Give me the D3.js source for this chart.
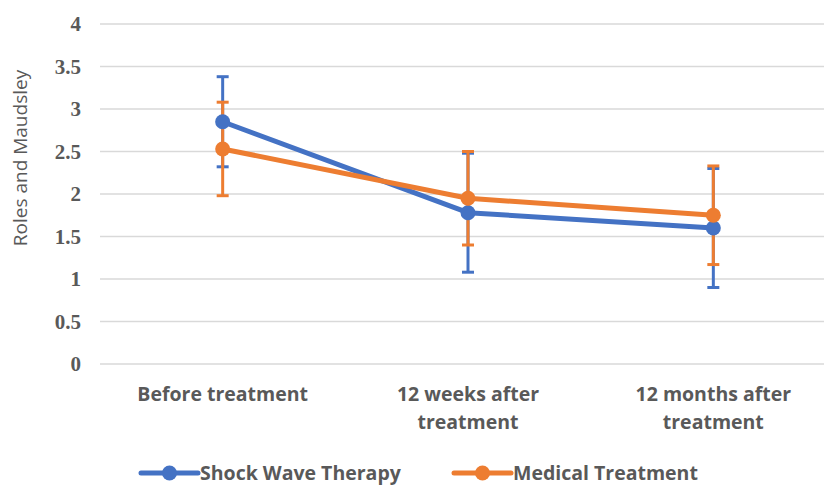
<!DOCTYPE html>
<html>
<head>
<meta charset="utf-8">
<script src="https://cdn.jsdelivr.net/npm/d3@7"></script>
<style>
  body { margin: 0; background: #fff; }
  svg { display: block; }
</style>
</head>
<body>
<div id="chart"></div>
<script>
// data
const categories = [["Before treatment"], ["12 weeks after", "treatment"], ["12 months after", "treatment"]];
const seriesNames = ["Shock Wave Therapy", "Medical Treatment"];
const seriesColors = ["#4472C4", "#ED7D31"];
const shockValues = [2.85, 1.78, 1.60];
const shockErr = [0.53, 0.70, 0.70];
const medicalValues = [2.53, 1.95, 1.75];
const medicalErr = [0.55, 0.55, 0.58];
const yTicks = [0, 0.5, 1, 1.5, 2, 2.5, 3, 3.5, 4];

const W = 824, H = 486;
const margin = {top: 24, left: 100, bottom: 122};

const svg = d3.select("#chart").append("svg")
    .attr("width", W)
    .attr("height", H);

const catKeys = categories.map(c => c.join(" "));

const x = d3.scalePoint()
    .domain(catKeys)
    .range([100, 836])
    .padding(0.5);

const y = d3.scaleLinear()
    .domain([0, 4])
    .range([H - margin.bottom, margin.top]);

// gridlines
svg.append("g")
    .selectAll("line")
    .data(yTicks)
    .join("line")
    .attr("x1", 100)
    .attr("x2", 836)
    .attr("y1", d => y(d))
    .attr("y2", d => y(d))
    .attr("stroke", "#d9d9d9")
    .attr("stroke-width", 1.3);

// y tick labels
svg.append("g")
    .selectAll("text")
    .data(yTicks)
    .join("text")
    .attr("x", 81)
    .attr("y", d => y(d))
    .attr("dy", "0.35em")
    .attr("text-anchor", "end")
    .attr("font-family", "Liberation Serif, serif")
    .attr("font-weight", "bold")
    .attr("font-size", 21)
    .attr("fill", "#595959")
    .text(d => d);

// y axis title
svg.append("text")
    .attr("transform", "translate(20," + 158 + ") rotate(-90)")
    .attr("text-anchor", "middle")
    .attr("dy", "0.35em")
    .attr("font-family", "Open Sans, sans-serif")
    .attr("font-size", 19)
    .attr("fill", "#595959")
    .text("Roles and Maudsley");

// category labels
const catG = svg.append("g")
    .selectAll("text")
    .data(categories)
    .join("text")
    .attr("x", (d, i) => x(catKeys[i]))
    .attr("y", 401)
    .attr("text-anchor", "middle")
    .attr("font-family", "Open Sans, sans-serif")
    .attr("font-weight", "bold")
    .attr("font-size", 19.5)
    .attr("fill", "#595959");

catG.selectAll("tspan")
    .data((d, i) => d.map(t => ({t: t, i: i})))
    .join("tspan")
    .attr("x", d => x(catKeys[d.i]))
    .attr("dy", (d, j) => j === 0 ? 0 : 28)
    .text(d => d.t);

const series = [
    {name: seriesNames[0], color: seriesColors[0], values: shockValues, err: shockErr},
    {name: seriesNames[1], color: seriesColors[1], values: medicalValues, err: medicalErr}
];

// error bars
series.forEach(s => {
    const g = svg.append("g");
    s.values.forEach((v, i) => {
        const cx = x(catKeys[i]);
        g.append("line")
            .attr("x1", cx).attr("x2", cx)
            .attr("y1", y(v + s.err[i])).attr("y2", y(v - s.err[i]))
            .attr("stroke", s.color).attr("stroke-width", 3);
        [v + s.err[i], v - s.err[i]].forEach(e => {
            g.append("line")
                .attr("x1", cx - 6).attr("x2", cx + 6)
                .attr("y1", y(e)).attr("y2", y(e))
                .attr("stroke", s.color).attr("stroke-width", 3);
        });
    });
});

// lines + markers
const line = d3.line()
    .x((d, i) => x(catKeys[i]))
    .y(d => y(d));

series.forEach(s => {
    svg.append("path")
        .datum(s.values)
        .attr("d", line)
        .attr("fill", "none")
        .attr("stroke", s.color)
        .attr("stroke-width", 5)
        .attr("stroke-linejoin", "round")
        .attr("stroke-linecap", "round");

    svg.append("g")
        .selectAll("circle")
        .data(s.values)
        .join("circle")
        .attr("cx", (d, i) => x(catKeys[i]))
        .attr("cy", d => y(d))
        .attr("r", 7.5)
        .attr("fill", s.color);
});

// legend
const legendX = [141, 454];
const legend = svg.append("g")
    .selectAll("g")
    .data(series)
    .join("g")
    .attr("transform", (d, i) => "translate(" + legendX[i] + ",473)");

legend.append("line")
    .attr("x1", 0).attr("x2", 57)
    .attr("stroke", d => d.color)
    .attr("stroke-width", 5)
    .attr("stroke-linecap", "round");

legend.append("circle")
    .attr("cx", 28.5)
    .attr("r", 7.5)
    .attr("fill", d => d.color);

legend.append("text")
    .attr("x", 59)
    .attr("dy", "0.35em")
    .attr("font-family", "Open Sans, sans-serif")
    .attr("font-weight", "bold")
    .attr("font-size", 19.5)
    .attr("fill", "#595959")
    .text(d => d.name);
</script>
</body>
</html>
